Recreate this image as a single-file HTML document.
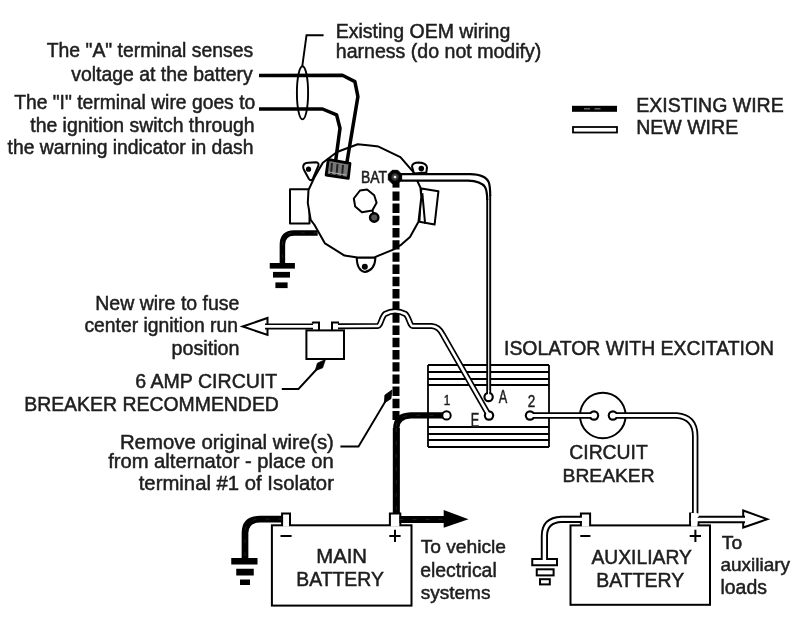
<!DOCTYPE html>
<html><head><meta charset="utf-8">
<style>
html,body{margin:0;padding:0;background:#fff;}
svg{display:block;will-change:transform;filter:blur(0.4px);}
text{font-family:"Liberation Sans",sans-serif;fill:#1e1e1e;stroke:#1e1e1e;stroke-width:0.5px;}
.t{font-size:19.3px;}
</style></head>
<body>
<svg width="800" height="631" viewBox="0 0 800 631">
<rect width="800" height="631" fill="#fff"/>

<ellipse cx="302.5" cy="92.8" rx="5.6" ry="26.6" fill="none" stroke="#000" stroke-width="1.9"/>
<path d="M302.3,66.2 L306.5,35.3 L323.6,35.3" fill="none" stroke="#000" stroke-width="1.9"/>

<g fill="#fff" stroke="#000" stroke-width="2" stroke-linejoin="round">
<rect x="290" y="189.2" width="19.5" height="34.2"/>
<path d="M421.3,188.5 L438.4,191.3 L434.6,224.6 L419.4,221.7Z"/>
<path d="M422.3,193.2 L425.1,223.6" fill="none"/>
<path d="M303.2,167 Q303,163.2 308,162.8 L316,162.3 Q319.5,162.8 318.3,166 L313,178.5 Q311,182 308.8,178.8 L304.3,170.5 Q303.2,168.5 303.2,167Z"/>
<path d="M412,166.5 Q412.3,162.6 419,162.6 Q426.5,163 427,167.5 L426.3,172.5 L414,173.5Z"/>
<path d="M356.7,257.6 Q357,271 365,272 Q375,270 375.4,257.6Z"/>
<polygon points="357.7,144.3 370,145.5 378.5,146.6 400.4,157.1 412.8,171.4 420.4,187.5 421.3,197 418.5,221.7 410,237 401.4,244.6 393.8,249.3 373.75,257.6 357.5,257.6 344.5,255.6 325,243.4 314.4,224.75 310.7,219.9 307.8,202.8 308.5,190 314.2,177.8 322.8,162.8 337,152"/>
<polygon fill="none" points="360,190.5 367.1,189.5 374.2,195.2 376.6,202.8 372.3,210.4 361.9,212.3 355.2,206.6 353.8,198.5"/>
</g>
<path d="M372.3,210.4 L373.5,213.5" stroke="#000" stroke-width="2"/><circle cx="374.2" cy="217.5" r="4.2" fill="#555" stroke="#000" stroke-width="2.4"/>
<circle cx="308.5" cy="169.2" r="2.6"/>
<circle cx="421.3" cy="168.6" r="2.8"/>
<circle cx="364.8" cy="266.7" r="3"/>
<polygon points="328.3,159.4 350,163.3 348.3,178.3 326.1,175" fill="#777" stroke="#000" stroke-width="2.8" stroke-linejoin="round"/>
<path d="M332,163 L331,174 M337.5,164 L336.5,175 M343,165 L342,176" stroke="#222" stroke-width="2"/>
<path d="M329,172 L346,175" stroke="#aaa" stroke-width="1.2"/>
<text x="361" y="182.7" style="font-size:16.5px;stroke-width:0.6px" textLength="26" lengthAdjust="spacingAndGlyphs">BAT</text>

<g fill="none" stroke="#000" stroke-width="3.5" stroke-linejoin="round">
<path d="M259,75.4 L342.4,75.3 L354.9,81.6 L357.9,96.6 L346.8,163"/>
<path d="M259,109 L322.5,109 L336.6,114.9 L340,128.2 L335.5,162"/>
</g>
<path d="M317.7,232.9 L294,232.9 Q282.4,233 282.4,245 L282.4,263.5" fill="none" stroke="#000" stroke-width="5.5" stroke-linejoin="round"/><path d="M317.7,232.9 L294,232.9 Q282.4,233 282.4,245 L282.4,263.5" fill="none" stroke="#fff" stroke-width="0.7" stroke-dasharray="4 9" stroke-opacity="0.18"/>
<rect x="269.75" y="263" width="25.15" height="5.6"/>
<rect x="273" y="271.9" width="17" height="5.7"/>
<rect x="275.4" y="282.4" width="12.2" height="5.7"/>
<path fill="none" stroke="#000" stroke-width="1.8" d="M428,365 H549 M428,372 H549 M428,379 H549 M428,385 H549 M428,427 H549 M428,434 H549 M428,440 H549 M428,447 H549 M428,365 V447 M549,365 V447"/><circle cx="602.8" cy="415.5" r="22.8" fill="none" stroke="#000" stroke-width="2"/><g fill="#fff" stroke="#000" stroke-width="2">
<rect x="306.4" y="330.4" width="37.6" height="28.6"/>
<path fill="none" d="M312.5,323.5 L313,322.5 L319,322.5 L319,330.4 M332,330.4 L332,322.5 L338,322.5 L338,323.5"/>
<polygon points="242.7,326.5 267.5,318 267.5,334.9"/>
</g><rect x="392.5" y="177" width="7" height="10.6"/><line x1="396" y1="191.4" x2="396" y2="420" stroke="#000" stroke-width="7" stroke-dasharray="9.4 2.8"/><path d="M265,326.4 L313,326.4 M338,326.2 L378,326 C380.5,326 382,316 385,314 Q395,308.5 405.5,314 C408.5,316 410,326 412.5,326 L431.7,326 Q439,326.5 443,335 L489,415.5" fill="none" stroke="#000" stroke-width="6" stroke-linejoin="round"/><path d="M530,415.5 L594,415.5 M612.9,415.5 L676.6,415.5 Q695.2,417 695.2,436 L695.2,513.6" fill="none" stroke="#000" stroke-width="6.4" stroke-linejoin="round"/><circle cx="489" cy="415.5" r="5.2"/><circle cx="530" cy="415.5" r="5.2"/><circle cx="594" cy="415.5" r="5.2"/><circle cx="612.9" cy="415.5" r="5.2"/><path d="M265,326.4 L313,326.4 M338,326.2 L378,326 C380.5,326 382,316 385,314 Q395,308.5 405.5,314 C408.5,316 410,326 412.5,326 L431.7,326 Q439,326.5 443,335 L489,415.5" fill="none" stroke="#fff" stroke-width="2.6" stroke-linejoin="round"/><path d="M530,415.5 L594,415.5 M612.9,415.5 L676.6,415.5 Q695.2,417 695.2,436 L695.2,513.6" fill="none" stroke="#fff" stroke-width="2.8" stroke-linejoin="round"/><circle cx="489" cy="415.5" r="3.1" fill="#fff"/><circle cx="530" cy="415.5" r="3.1" fill="#fff"/><circle cx="594" cy="415.5" r="3.1" fill="#fff"/><circle cx="612.9" cy="415.5" r="3.1" fill="#fff"/><path d="M396,174.2 L470,174.2 Q486,174.5 489,183 Q490.2,187 490.2,196 L490.2,397 L487.2,397 L487.2,200 Q487.2,191 485,187 Q481,181 468,180.6 L396,180.6Z" fill="#fff"/><path d="M396,174.2 L470,174.2 Q486,174.5 489,183 Q490.2,187 490.2,196 M396,180.6 L468,180.6 Q481,181 485,187 Q487.2,191 487.2,200" fill="none" stroke="#000" stroke-width="2.2"/><path d="M490.2,195 L490.2,393.5 M487.2,199 L487.2,393.5" fill="none" stroke="#000" stroke-width="1.9"/><circle cx="488.6" cy="397" r="5.2"/><circle cx="488.6" cy="397" r="3.1" fill="#fff"/><rect x="488" y="390" width="1.2" height="6" fill="#fff"/><polygon points="401.65,179.76 397.76,183.65 392.24,183.65 388.35,179.76 388.35,174.24 392.24,170.35 397.76,170.35 401.65,174.24" stroke="#000" stroke-width="1" stroke-linejoin="round"/><circle cx="395" cy="177" r="3.4" fill="#444" stroke="#222" stroke-width="1"/><circle cx="395" cy="177" r="1.3" fill="#f4f4f4"/><path d="M446.3,415.3 L410.7,415.3 Q396.3,416 396.3,428 L396.3,514" fill="none" stroke="#000" stroke-width="6.2" stroke-linejoin="round"/><path d="M446.3,415.3 L410.7,415.3 Q396.3,416 396.3,428 L396.3,514" fill="none" stroke="#fff" stroke-width="0.7" stroke-dasharray="4 9" stroke-opacity="0.18"/><path d="M396.3,428 L396.3,514" fill="none" stroke="#000" stroke-width="7" stroke-linejoin="round"/><path d="M396.3,428 L396.3,514" fill="none" stroke="#fff" stroke-width="0.7" stroke-dasharray="4 9" stroke-opacity="0.18"/><circle cx="446.5" cy="415.4" r="4.2" fill="#fff" stroke="#000" stroke-width="2"/><g style="stroke-width:0.7px">
<text x="443.8" y="405.3" style="font-size:15px" textLength="6.5" lengthAdjust="spacingAndGlyphs">1</text>
<text x="498.8" y="403" style="font-size:18.5px" textLength="8.5" lengthAdjust="spacingAndGlyphs">A</text>
<text x="470.8" y="426.8" style="font-size:19.5px" textLength="8.5" lengthAdjust="spacingAndGlyphs">E</text>
<text x="527.8" y="407" style="font-size:17px" textLength="7.5" lengthAdjust="spacingAndGlyphs">2</text>
</g><path d="M281.8,389 L298.5,389 L322,363.5" fill="none" stroke="#000" stroke-width="1.9"/>
<polygon points="325.40,359.60 322.58,367.86 315.27,370.67 317.42,363.14" stroke="#000" stroke-width="0.8" stroke-linejoin="round"/>
<path d="M340.4,446.5 L358.5,446.5 L388,397" fill="none" stroke="#000" stroke-width="1.9"/>
<polygon points="392.00,390.00 390.93,398.67 384.35,402.90 384.91,395.10" stroke="#000" stroke-width="0.8" stroke-linejoin="round"/><g fill="#fff" stroke="#000" stroke-width="2">
<rect x="271.9" y="525.3" width="139.6" height="80.3"/>
<path fill="none" d="M282.1,525.3 V513.5 H290 V525.3 M389.9,525.3 V513.4 H400.3 V525.3"/>
</g>
<rect x="283.1" y="523.6" width="5.9" height="3" fill="#fff"/>
<rect x="390.9" y="523.6" width="8.4" height="3" fill="#fff"/>
<path fill="none" stroke="#000" stroke-width="2" d="M280.5,536.1 H291.6 M395,529.8 V542 M389.3,536 H400.6"/><path d="M282.6,519.1 L260,519.1 Q245,519.5 245,533 L245,558" fill="none" stroke="#000" stroke-width="6.7" stroke-linejoin="round"/><path d="M282.6,519.1 L260,519.1 Q245,519.5 245,533 L245,558" fill="none" stroke="#fff" stroke-width="0.7" stroke-dasharray="4 9" stroke-opacity="0.18"/><rect x="231.25" y="558" width="26.25" height="6.5"/>
<rect x="236.25" y="568.75" width="17.5" height="6.75"/>
<rect x="240" y="579.5" width="10" height="5.5"/><path d="M399.5,519.4 L445,519.4" fill="none" stroke="#000" stroke-width="7" stroke-linejoin="round"/><path d="M399.5,519.4 L445,519.4" fill="none" stroke="#fff" stroke-width="0.7" stroke-dasharray="4 9" stroke-opacity="0.18"/><polygon points="443.7,510 468.5,519.2 443.7,527.7"/><g fill="#fff" stroke="#000" stroke-width="2">
<rect x="570.5" y="525.4" width="139.5" height="79.4"/>
<path fill="none" d="M580.9,525.4 V513.5 H590.1 V525.4 M690.1,525.4 V513.4 H692.5 M698.4,517 V525.4"/>
<rect x="532.25" y="559" width="24.75" height="6.25"/>
<rect x="536.75" y="569.3" width="16.85" height="6.1"/>
<rect x="540" y="579.2" width="9.8" height="5.2"/>
<polygon points="743.2,510.5 767.3,519.2 743.2,527.5"/>
</g>
<rect x="581.9" y="523.6" width="7.2" height="3" fill="#fff"/>
<rect x="691.1" y="523.6" width="6.3" height="3" fill="#fff"/><path d="M581.5,519.4 L561.5,519.4 Q544.4,520 544.4,536 L544.4,560" fill="none" stroke="#000" stroke-width="7.2" stroke-linejoin="round"/><path d="M589.1,519.4 L561.5,519.4 Q544.4,520 544.4,536 L544.4,561" fill="none" stroke="#fff" stroke-width="3.4" stroke-linejoin="round"/><path d="M698.6,519.5 L745,519.5" fill="none" stroke="#000" stroke-width="7.4"/><path d="M690.9,519.5 L746,519.5" fill="none" stroke="#fff" stroke-width="3.6"/><rect x="691.1" y="513" width="6.3" height="11" fill="#fff"/><path fill="none" stroke="#000" stroke-width="2" d="M580.3,536.1 H590.4 M695.4,529.8 V542 M689.7,536 H701"/><rect x="572" y="105.8" width="45" height="6"/><rect x="584" y="108.3" width="6" height="1.1" fill="#888"/><rect x="594.5" y="108.3" width="6" height="1.1" fill="#888"/><rect x="573" y="127" width="44" height="5.5" fill="#fff" stroke="#000" stroke-width="1.8"/>
<g class="t"><text x="46.77" y="56.7" style="font-size:19.36px">The &quot;A&quot; terminal senses</text><text x="71.25" y="80.9" style="font-size:19.43px">voltage at the battery</text><text x="14.17" y="109" style="font-size:19.31px">The &quot;I&quot; terminal wire goes to</text><text x="30.26" y="131.8" style="font-size:19.41px">the ignition switch through</text><text x="7.57" y="154.4" style="font-size:19.32px">the warning indicator in dash</text><text x="335.79" y="37.6" style="font-size:19.5px">Existing OEM wiring</text><text x="335.78" y="58" style="font-size:19.57px">harness (do not modify)</text><text x="636.18" y="111.6" style="font-size:19.54px">EXISTING WIRE</text><text x="636.18" y="133.5" style="font-size:19.55px">NEW WIRE</text><text x="95.29" y="309.8" style="font-size:19.51px">New wire to fuse</text><text x="84.48" y="332.2" style="font-size:19.31px">center ignition run</text><text x="171.57" y="354.5" style="font-size:19.73px">position</text><text x="504.01" y="355" style="font-size:19.4px">ISOLATOR WITH EXCITATION</text><text x="135.27" y="388.4" style="font-size:19.57px">6 AMP CIRCUIT</text><text x="24.19" y="410.8" style="font-size:19.43px">BREAKER RECOMMENDED</text><text x="119.92" y="448.6" style="font-size:20.39px">Remove original wire(s)</text><text x="108.15" y="468.4" style="font-size:20.19px">from alternator - place on</text><text x="138.74" y="489.5" style="font-size:20.31px">terminal #1 of Isolator</text><text x="569.28" y="458.7" style="font-size:19.37px">CIRCUIT</text><text x="562.61" y="481.5" style="font-size:19.25px">BREAKER</text><text x="316.23" y="562.5" style="font-size:20.32px">MAIN</text><text x="296.3" y="586.25" style="font-size:19.38px">BATTERY</text><text x="420.67" y="552.8" style="font-size:19.22px">To vehicle</text><text x="420.18" y="577" style="font-size:19.4px">electrical</text><text x="420.67" y="599.4" style="font-size:19.06px">systems</text><text x="591.45" y="564" style="font-size:19.3px">AUXILIARY</text><text x="596.29" y="587.3" style="font-size:19.46px">BATTERY</text><text x="721.79" y="548.5" style="font-size:19.2px">To</text><text x="720.5" y="570.6" style="font-size:18.98px">auxiliary</text><text x="720.49" y="594.1" style="font-size:19.43px">loads</text></g>
</svg>
</body></html>
